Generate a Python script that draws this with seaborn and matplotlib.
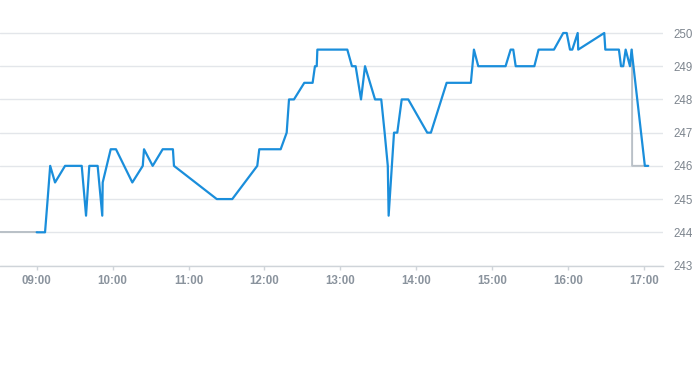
import numpy as np
import pandas as pd
import matplotlib
matplotlib.use("Agg")
import matplotlib.pyplot as plt
import matplotlib.dates as mdates
import seaborn as sns

price_times = [
    "09:00:00", "09:06:36", "09:08:40", "09:10:40", "09:14:30", "09:22:25", "09:35:35",
    "09:39:00", "09:41:35", "09:48:10", "09:51:50", "09:52:10", "09:58:30", "10:02:40",
    "10:15:35", "10:23:50", "10:24:50", "10:31:40", "10:39:35", "10:47:40", "10:48:30",
    "11:22:20", "11:34:35", "11:54:20", "11:55:55", "12:12:50", "12:17:35", "12:19:25",
    "12:23:20", "12:31:30", "12:38:05", "12:39:55", "12:41:20", "12:41:50", "13:05:30",
    "13:09:10", "13:12:05", "13:16:20", "13:19:30", "13:27:25", "13:32:20", "13:35:00",
    "13:37:30", "13:38:10", "13:42:25", "13:45:00", "13:48:30", "13:53:40", "14:08:40",
    "14:11:35", "14:24:00", "14:43:10", "14:45:35", "14:49:00", "15:10:35", "15:14:35",
    "15:16:40", "15:18:35", "15:33:20", "15:36:40", "15:48:50", "15:56:10", "15:58:55",
    "16:01:30", "16:03:20", "16:07:35", "16:08:00", "16:28:35", "16:29:25", "16:40:10",
    "16:41:50", "16:43:35", "16:45:30", "16:48:55", "16:50:10", "17:00:40", "17:03:20",
]
price_values = [
    244, 244, 245, 246, 245.5, 246, 246,
    244.5, 246, 246, 244.5, 245.5, 246.5, 246.5,
    245.5, 246, 246.5, 246, 246.5, 246.5, 246,
    245, 245, 246, 246.5, 246.5, 247, 248,
    248, 248.5, 248.5, 249, 249, 249.5, 249.5,
    249, 249, 248, 249, 248, 248, 247,
    246, 244.5, 247, 247, 248, 248, 247,
    247, 248.5, 248.5, 249.5, 249, 249, 249.5,
    249.5, 249, 249, 249.5, 249.5, 250, 250,
    249.5, 249.5, 250, 249.5, 250, 249.5, 249.5,
    249, 249, 249.5, 249, 249.5, 246, 246,
]

ref_open_times = ["08:20:00", "09:00:00"]
ref_open_values = [244, 244]
ref_close_times = ["16:50:35", "16:50:36", "17:01:25"]
ref_close_values = [249.5, 246, 246]

y_ticks = [243, 244, 245, 246, 247, 248, 249, 250]

DAY = "2024-01-02 "


def to_dt(ts):
    return pd.to_datetime([DAY + t for t in ts])


price_df = pd.DataFrame({"time": to_dt(price_times), "price": price_values})
open_df = pd.DataFrame({"time": to_dt(ref_open_times), "price": ref_open_values})
close_df = pd.DataFrame({"time": to_dt(ref_close_times), "price": ref_close_values})

sns.set_theme(style="white")
plt.rcParams["font.family"] = ["Liberation Sans", "DejaVu Sans"]

W, H = 693, 365
fig = plt.figure(figsize=(W / 100, H / 100), dpi=100)
ax_left, ax_right = 0.0, 663.3
ax_bottom_px, ax_top_px = 265.5, 10.0
ax = fig.add_axes([ax_left / W, (H - ax_bottom_px) / H,
                   (ax_right - ax_left) / W, (ax_bottom_px - ax_top_px) / H])

gray = "#b9c0c7"
blue = "#1a8edb"
sns.lineplot(data=open_df, x="time", y="price", ax=ax, color=gray, linewidth=1.4,
             sort=False, estimator=None)
sns.lineplot(data=close_df, x="time", y="price", ax=ax, color=gray, linewidth=1.4,
             sort=False, estimator=None)
sns.lineplot(data=price_df, x="time", y="price", ax=ax, color=blue, linewidth=1.6,
             sort=False, estimator=None)

px_per_unit = (265.5 - 33.0) / 7.0
ax.set_ylim(243, 250 + (33.0 - ax_top_px) / px_per_unit)
ax.set_xlim(pd.Timestamp(DAY + "08:31:00"), pd.Timestamp(DAY + "17:15:15"))

ax.set_yticks(y_ticks)
ax.set_yticklabels([str(v) for v in y_ticks])
ax.yaxis.tick_right()
ax.tick_params(axis="y", length=0, pad=7.0, labelsize=8.3, labelcolor="#7d858e")
ax.grid(axis="y", color="#e3e6ea", linewidth=1.0)
ax.grid(axis="x", visible=False)

ax.xaxis.set_major_locator(mdates.HourLocator())
ax.xaxis.set_major_formatter(mdates.DateFormatter("%H:%M"))
ax.tick_params(axis="x", length=3, width=1, color="#cfd4d9", pad=4,
               labelsize=8.3, labelcolor="#8a939d", bottom=True)
for lab in ax.get_xticklabels():
    lab.set_fontweight("bold")

for s in ["top", "left", "right"]:
    ax.spines[s].set_visible(False)
ax.spines["bottom"].set_color("#cfd4d9")
ax.spines["bottom"].set_linewidth(1.0)
ax.set_xlabel("")
ax.set_ylabel("")

fig.savefig("out.png", dpi=100)
